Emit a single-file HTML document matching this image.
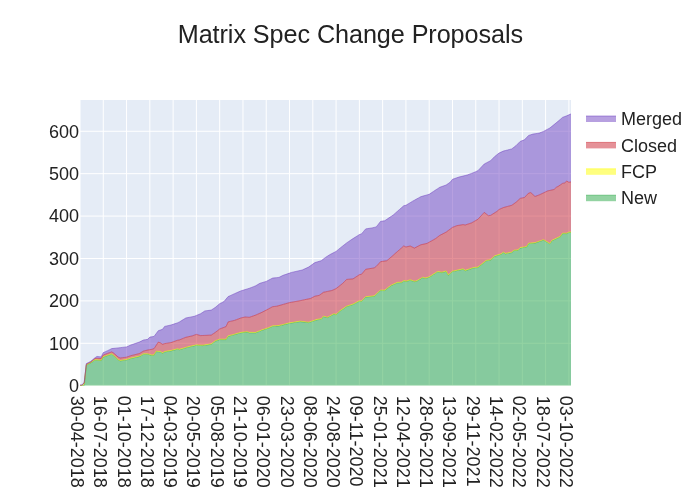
<!DOCTYPE html>
<html><head><meta charset="utf-8"><title>Matrix Spec Change Proposals</title>
<style>
html,body{margin:0;padding:0;background:#fff;}
body{width:700px;height:500px;overflow:hidden;font-family:"Liberation Sans",sans-serif;}
.layer{position:absolute;left:0;top:0;width:700px;height:500px;}
.txt{will-change:transform;}
.t{font-family:"Liberation Sans",sans-serif;font-size:18px;fill:#222222;}
.title{font-family:"Liberation Sans",sans-serif;font-size:25.2px;fill:#222222;}
</style></head><body>
<div class="layer"><svg width="700" height="500" viewBox="0 0 700 500" style="display:block">
<rect x="0" y="0" width="700" height="500" fill="#ffffff"/>
<rect x="80" y="100" width="491" height="285.7" fill="#E5ECF6"/>
<path d="M80.00,100V385.7" stroke="#ffffff" stroke-width="1" fill="none"/>
<path d="M103.28,100V385.7" stroke="#ffffff" stroke-width="1" fill="none"/>
<path d="M126.56,100V385.7" stroke="#ffffff" stroke-width="1" fill="none"/>
<path d="M149.84,100V385.7" stroke="#ffffff" stroke-width="1" fill="none"/>
<path d="M173.12,100V385.7" stroke="#ffffff" stroke-width="1" fill="none"/>
<path d="M196.40,100V385.7" stroke="#ffffff" stroke-width="1" fill="none"/>
<path d="M219.68,100V385.7" stroke="#ffffff" stroke-width="1" fill="none"/>
<path d="M242.96,100V385.7" stroke="#ffffff" stroke-width="1" fill="none"/>
<path d="M266.24,100V385.7" stroke="#ffffff" stroke-width="1" fill="none"/>
<path d="M289.52,100V385.7" stroke="#ffffff" stroke-width="1" fill="none"/>
<path d="M312.80,100V385.7" stroke="#ffffff" stroke-width="1" fill="none"/>
<path d="M336.08,100V385.7" stroke="#ffffff" stroke-width="1" fill="none"/>
<path d="M359.36,100V385.7" stroke="#ffffff" stroke-width="1" fill="none"/>
<path d="M382.64,100V385.7" stroke="#ffffff" stroke-width="1" fill="none"/>
<path d="M405.92,100V385.7" stroke="#ffffff" stroke-width="1" fill="none"/>
<path d="M429.20,100V385.7" stroke="#ffffff" stroke-width="1" fill="none"/>
<path d="M452.48,100V385.7" stroke="#ffffff" stroke-width="1" fill="none"/>
<path d="M475.76,100V385.7" stroke="#ffffff" stroke-width="1" fill="none"/>
<path d="M499.04,100V385.7" stroke="#ffffff" stroke-width="1" fill="none"/>
<path d="M522.32,100V385.7" stroke="#ffffff" stroke-width="1" fill="none"/>
<path d="M545.60,100V385.7" stroke="#ffffff" stroke-width="1" fill="none"/>
<path d="M568.88,100V385.7" stroke="#ffffff" stroke-width="1" fill="none"/>
<path d="M80,343.29H571" stroke="#ffffff" stroke-width="1" fill="none"/>
<path d="M80,300.88H571" stroke="#ffffff" stroke-width="1" fill="none"/>
<path d="M80,258.47H571" stroke="#ffffff" stroke-width="1" fill="none"/>
<path d="M80,216.07H571" stroke="#ffffff" stroke-width="1" fill="none"/>
<path d="M80,173.66H571" stroke="#ffffff" stroke-width="1" fill="none"/>
<path d="M80,131.25H571" stroke="#ffffff" stroke-width="1" fill="none"/>
<path d="M80,385.7H571" stroke="#ffffff" stroke-width="2" fill="none"/>
<clipPath id="c"><rect x="80" y="100" width="491" height="285.7"/></clipPath>
<g clip-path="url(#c)">
<path d="M80.00,385.45 L82.12,385.45 L84.23,385.50 L86.35,365.20 L88.47,364.15 L90.58,363.10 L92.70,361.65 L94.81,360.20 L96.93,360.20 L99.05,360.40 L101.16,360.60 L103.28,357.10 L105.40,356.35 L107.51,355.60 L109.63,354.90 L111.75,354.20 L113.86,355.90 L115.98,357.90 L118.09,359.90 L120.21,360.90 L122.33,360.57 L124.44,360.23 L126.56,359.90 L128.68,359.20 L130.79,358.50 L132.91,358.02 L135.03,357.55 L137.14,357.07 L139.26,356.60 L141.38,355.40 L143.49,354.20 L145.61,354.20 L147.72,354.20 L149.84,354.85 L151.96,355.50 L154.07,355.20 L156.19,351.60 L158.31,351.75 L160.42,351.90 L162.54,353.30 L164.66,351.90 L166.77,351.57 L168.89,351.23 L171.00,350.90 L173.12,350.33 L175.24,349.77 L177.35,349.20 L179.47,349.70 L181.59,349.07 L183.70,348.45 L185.82,347.82 L187.94,347.20 L190.05,346.73 L192.17,346.25 L194.28,345.77 L196.40,345.30 L198.52,345.40 L200.63,345.50 L202.75,345.60 L204.87,345.27 L206.98,344.95 L209.10,344.62 L211.22,344.30 L213.33,342.70 L215.45,341.10 L217.56,340.35 L219.68,339.60 L221.80,339.60 L223.91,339.60 L226.03,339.60 L228.15,336.30 L230.26,335.73 L232.38,335.17 L234.50,334.60 L236.61,334.00 L238.73,333.40 L240.84,332.80 L242.96,332.57 L245.08,332.33 L247.19,332.10 L249.31,332.80 L251.43,332.80 L253.54,332.80 L255.66,332.80 L257.78,331.97 L259.89,331.13 L262.01,330.30 L264.12,329.60 L266.24,328.90 L268.36,328.20 L270.47,327.25 L272.59,326.30 L274.71,326.20 L276.82,326.10 L278.94,325.90 L281.06,325.38 L283.17,324.86 L285.29,324.34 L287.41,323.82 L289.52,323.30 L291.64,322.96 L293.75,322.62 L295.87,322.28 L297.99,321.94 L300.10,321.60 L302.22,321.85 L304.34,322.10 L306.45,322.35 L308.57,322.60 L310.69,321.90 L312.80,321.20 L314.92,320.50 L317.03,319.80 L319.15,319.50 L321.27,319.20 L323.38,316.60 L325.50,317.10 L327.62,317.60 L329.73,316.40 L331.85,315.20 L333.97,314.10 L336.08,314.80 L338.20,312.85 L340.31,310.90 L342.43,309.47 L344.55,308.03 L346.66,306.60 L348.78,305.90 L350.90,305.20 L353.01,304.50 L355.13,303.40 L357.25,302.30 L359.36,301.20 L361.48,301.50 L363.59,299.30 L365.71,297.10 L367.83,296.90 L369.94,296.70 L372.06,296.50 L374.18,296.30 L376.29,294.40 L378.41,292.50 L380.53,290.60 L382.64,290.55 L384.76,290.50 L386.88,288.87 L388.99,287.23 L391.11,285.60 L393.22,284.67 L395.34,283.73 L397.46,282.80 L399.57,282.70 L401.69,282.60 L403.81,280.90 L405.92,281.60 L408.04,280.90 L410.16,280.20 L412.27,280.90 L414.39,281.60 L416.50,281.30 L418.62,280.07 L420.74,278.83 L422.85,277.60 L424.97,278.50 L427.09,277.90 L429.20,277.30 L431.32,275.90 L433.44,274.50 L435.55,273.20 L437.67,271.90 L439.78,272.25 L441.90,272.60 L444.02,272.00 L446.13,271.40 L448.25,275.30 L450.37,273.45 L452.48,271.60 L454.60,271.14 L456.72,270.68 L458.83,270.22 L460.95,269.76 L463.06,269.30 L465.18,270.80 L467.30,270.07 L469.41,269.35 L471.53,268.62 L473.65,267.90 L475.76,267.70 L477.88,267.50 L480.00,265.82 L482.11,264.15 L484.23,262.48 L486.34,260.80 L488.46,260.45 L490.58,260.10 L492.69,258.15 L494.81,256.20 L496.93,255.57 L499.04,254.93 L501.16,254.30 L503.28,252.60 L505.39,253.80 L507.51,253.40 L509.62,253.00 L511.74,252.60 L513.86,250.60 L515.97,250.45 L518.09,250.30 L520.21,248.00 L522.32,247.67 L524.44,247.33 L526.56,247.00 L528.67,243.60 L530.79,243.43 L532.91,243.27 L535.02,243.10 L537.14,242.35 L539.25,241.60 L541.37,240.85 L543.49,240.10 L545.60,241.37 L547.72,242.63 L549.84,243.90 L551.95,240.80 L554.07,239.77 L556.19,238.75 L558.30,237.72 L560.42,236.70 L562.53,233.60 L564.65,233.60 L566.77,233.60 L568.88,232.50 L571.00,232.50 L571.00,385.70 L568.88,385.70 L566.77,385.70 L564.65,385.70 L562.53,385.70 L560.42,385.70 L558.30,385.70 L556.19,385.70 L554.07,385.70 L551.95,385.70 L549.84,385.70 L547.72,385.70 L545.60,385.70 L543.49,385.70 L541.37,385.70 L539.25,385.70 L537.14,385.70 L535.02,385.70 L532.91,385.70 L530.79,385.70 L528.67,385.70 L526.56,385.70 L524.44,385.70 L522.32,385.70 L520.21,385.70 L518.09,385.70 L515.97,385.70 L513.86,385.70 L511.74,385.70 L509.62,385.70 L507.51,385.70 L505.39,385.70 L503.28,385.70 L501.16,385.70 L499.04,385.70 L496.93,385.70 L494.81,385.70 L492.69,385.70 L490.58,385.70 L488.46,385.70 L486.34,385.70 L484.23,385.70 L482.11,385.70 L480.00,385.70 L477.88,385.70 L475.76,385.70 L473.65,385.70 L471.53,385.70 L469.41,385.70 L467.30,385.70 L465.18,385.70 L463.06,385.70 L460.95,385.70 L458.83,385.70 L456.72,385.70 L454.60,385.70 L452.48,385.70 L450.37,385.70 L448.25,385.70 L446.13,385.70 L444.02,385.70 L441.90,385.70 L439.78,385.70 L437.67,385.70 L435.55,385.70 L433.44,385.70 L431.32,385.70 L429.20,385.70 L427.09,385.70 L424.97,385.70 L422.85,385.70 L420.74,385.70 L418.62,385.70 L416.50,385.70 L414.39,385.70 L412.27,385.70 L410.16,385.70 L408.04,385.70 L405.92,385.70 L403.81,385.70 L401.69,385.70 L399.57,385.70 L397.46,385.70 L395.34,385.70 L393.22,385.70 L391.11,385.70 L388.99,385.70 L386.88,385.70 L384.76,385.70 L382.64,385.70 L380.53,385.70 L378.41,385.70 L376.29,385.70 L374.18,385.70 L372.06,385.70 L369.94,385.70 L367.83,385.70 L365.71,385.70 L363.59,385.70 L361.48,385.70 L359.36,385.70 L357.25,385.70 L355.13,385.70 L353.01,385.70 L350.90,385.70 L348.78,385.70 L346.66,385.70 L344.55,385.70 L342.43,385.70 L340.31,385.70 L338.20,385.70 L336.08,385.70 L333.97,385.70 L331.85,385.70 L329.73,385.70 L327.62,385.70 L325.50,385.70 L323.38,385.70 L321.27,385.70 L319.15,385.70 L317.03,385.70 L314.92,385.70 L312.80,385.70 L310.69,385.70 L308.57,385.70 L306.45,385.70 L304.34,385.70 L302.22,385.70 L300.10,385.70 L297.99,385.70 L295.87,385.70 L293.75,385.70 L291.64,385.70 L289.52,385.70 L287.41,385.70 L285.29,385.70 L283.17,385.70 L281.06,385.70 L278.94,385.70 L276.82,385.70 L274.71,385.70 L272.59,385.70 L270.47,385.70 L268.36,385.70 L266.24,385.70 L264.12,385.70 L262.01,385.70 L259.89,385.70 L257.78,385.70 L255.66,385.70 L253.54,385.70 L251.43,385.70 L249.31,385.70 L247.19,385.70 L245.08,385.70 L242.96,385.70 L240.84,385.70 L238.73,385.70 L236.61,385.70 L234.50,385.70 L232.38,385.70 L230.26,385.70 L228.15,385.70 L226.03,385.70 L223.91,385.70 L221.80,385.70 L219.68,385.70 L217.56,385.70 L215.45,385.70 L213.33,385.70 L211.22,385.70 L209.10,385.70 L206.98,385.70 L204.87,385.70 L202.75,385.70 L200.63,385.70 L198.52,385.70 L196.40,385.70 L194.28,385.70 L192.17,385.70 L190.05,385.70 L187.94,385.70 L185.82,385.70 L183.70,385.70 L181.59,385.70 L179.47,385.70 L177.35,385.70 L175.24,385.70 L173.12,385.70 L171.00,385.70 L168.89,385.70 L166.77,385.70 L164.66,385.70 L162.54,385.70 L160.42,385.70 L158.31,385.70 L156.19,385.70 L154.07,385.70 L151.96,385.70 L149.84,385.70 L147.72,385.70 L145.61,385.70 L143.49,385.70 L141.38,385.70 L139.26,385.70 L137.14,385.70 L135.03,385.70 L132.91,385.70 L130.79,385.70 L128.68,385.70 L126.56,385.70 L124.44,385.70 L122.33,385.70 L120.21,385.70 L118.09,385.70 L115.98,385.70 L113.86,385.70 L111.75,385.70 L109.63,385.70 L107.51,385.70 L105.40,385.70 L103.28,385.70 L101.16,385.70 L99.05,385.70 L96.93,385.70 L94.81,385.70 L92.70,385.70 L90.58,385.70 L88.47,385.70 L86.35,385.70 L84.23,385.70 L82.12,385.70 L80.00,385.70 Z" fill="rgba(40,167,69,0.5)" stroke="none"/>
<path d="M80.00,385.45 L82.12,385.45 L84.23,383.60 L86.35,364.75 L88.47,363.70 L90.58,362.65 L92.70,361.20 L94.81,359.75 L96.93,359.75 L99.05,359.95 L101.16,360.15 L103.28,356.65 L105.40,355.90 L107.51,355.15 L109.63,354.45 L111.75,353.75 L113.86,355.45 L115.98,357.45 L118.09,359.45 L120.21,360.45 L122.33,360.12 L124.44,359.78 L126.56,359.45 L128.68,358.75 L130.79,358.05 L132.91,357.57 L135.03,357.10 L137.14,356.62 L139.26,356.15 L141.38,354.95 L143.49,353.75 L145.61,353.75 L147.72,353.75 L149.84,354.40 L151.96,355.05 L154.07,354.75 L156.19,351.15 L158.31,351.30 L160.42,351.45 L162.54,352.85 L164.66,351.45 L166.77,351.12 L168.89,350.78 L171.00,350.45 L173.12,349.88 L175.24,349.32 L177.35,348.75 L179.47,349.25 L181.59,348.62 L183.70,348.00 L185.82,347.38 L187.94,346.75 L190.05,346.27 L192.17,345.80 L194.28,345.33 L196.40,344.85 L198.52,344.95 L200.63,345.05 L202.75,345.15 L204.87,344.82 L206.98,344.50 L209.10,344.18 L211.22,343.85 L213.33,342.25 L215.45,340.65 L217.56,339.90 L219.68,339.15 L221.80,339.15 L223.91,339.15 L226.03,339.15 L228.15,335.85 L230.26,335.28 L232.38,334.72 L234.50,334.15 L236.61,333.55 L238.73,332.95 L240.84,332.35 L242.96,332.12 L245.08,331.88 L247.19,331.65 L249.31,332.35 L251.43,332.35 L253.54,332.35 L255.66,332.35 L257.78,331.52 L259.89,330.68 L262.01,329.85 L264.12,329.15 L266.24,328.45 L268.36,327.75 L270.47,326.80 L272.59,325.85 L274.71,325.75 L276.82,325.65 L278.94,325.45 L281.06,324.93 L283.17,324.41 L285.29,323.89 L287.41,323.37 L289.52,322.85 L291.64,322.51 L293.75,322.17 L295.87,321.83 L297.99,321.49 L300.10,321.15 L302.22,321.40 L304.34,321.65 L306.45,321.90 L308.57,322.15 L310.69,321.45 L312.80,320.75 L314.92,320.05 L317.03,319.35 L319.15,319.05 L321.27,318.75 L323.38,316.15 L325.50,316.65 L327.62,317.15 L329.73,315.95 L331.85,314.75 L333.97,313.65 L336.08,314.35 L338.20,312.40 L340.31,310.45 L342.43,309.02 L344.55,307.58 L346.66,306.15 L348.78,305.45 L350.90,304.75 L353.01,304.05 L355.13,302.95 L357.25,301.85 L359.36,300.75 L361.48,301.05 L363.59,298.85 L365.71,296.65 L367.83,296.45 L369.94,296.25 L372.06,296.05 L374.18,295.85 L376.29,293.95 L378.41,292.05 L380.53,290.15 L382.64,290.10 L384.76,290.05 L386.88,288.42 L388.99,286.78 L391.11,285.15 L393.22,284.22 L395.34,283.28 L397.46,282.35 L399.57,282.25 L401.69,282.15 L403.81,280.45 L405.92,281.15 L408.04,280.45 L410.16,279.75 L412.27,280.45 L414.39,281.15 L416.50,280.85 L418.62,279.62 L420.74,278.38 L422.85,277.15 L424.97,278.05 L427.09,277.45 L429.20,276.85 L431.32,275.45 L433.44,274.05 L435.55,272.75 L437.67,271.45 L439.78,271.80 L441.90,272.15 L444.02,271.55 L446.13,270.95 L448.25,274.85 L450.37,273.00 L452.48,271.15 L454.60,270.69 L456.72,270.23 L458.83,269.77 L460.95,269.31 L463.06,268.85 L465.18,270.35 L467.30,269.62 L469.41,268.90 L471.53,268.18 L473.65,267.45 L475.76,267.25 L477.88,267.05 L480.00,265.38 L482.11,263.70 L484.23,262.03 L486.34,260.35 L488.46,260.00 L490.58,259.65 L492.69,257.70 L494.81,255.75 L496.93,255.12 L499.04,254.48 L501.16,253.85 L503.28,252.15 L505.39,253.35 L507.51,252.95 L509.62,252.55 L511.74,252.15 L513.86,250.15 L515.97,250.00 L518.09,249.85 L520.21,247.55 L522.32,247.22 L524.44,246.88 L526.56,246.55 L528.67,243.15 L530.79,242.98 L532.91,242.82 L535.02,242.65 L537.14,241.90 L539.25,241.15 L541.37,240.40 L543.49,239.65 L545.60,240.92 L547.72,242.18 L549.84,243.45 L551.95,240.35 L554.07,239.32 L556.19,238.30 L558.30,237.28 L560.42,236.25 L562.53,233.15 L564.65,233.15 L566.77,233.15 L568.88,232.05 L571.00,232.05 L571.00,232.50 L568.88,232.50 L566.77,233.60 L564.65,233.60 L562.53,233.60 L560.42,236.70 L558.30,237.72 L556.19,238.75 L554.07,239.77 L551.95,240.80 L549.84,243.90 L547.72,242.63 L545.60,241.37 L543.49,240.10 L541.37,240.85 L539.25,241.60 L537.14,242.35 L535.02,243.10 L532.91,243.27 L530.79,243.43 L528.67,243.60 L526.56,247.00 L524.44,247.33 L522.32,247.67 L520.21,248.00 L518.09,250.30 L515.97,250.45 L513.86,250.60 L511.74,252.60 L509.62,253.00 L507.51,253.40 L505.39,253.80 L503.28,252.60 L501.16,254.30 L499.04,254.93 L496.93,255.57 L494.81,256.20 L492.69,258.15 L490.58,260.10 L488.46,260.45 L486.34,260.80 L484.23,262.48 L482.11,264.15 L480.00,265.82 L477.88,267.50 L475.76,267.70 L473.65,267.90 L471.53,268.62 L469.41,269.35 L467.30,270.07 L465.18,270.80 L463.06,269.30 L460.95,269.76 L458.83,270.22 L456.72,270.68 L454.60,271.14 L452.48,271.60 L450.37,273.45 L448.25,275.30 L446.13,271.40 L444.02,272.00 L441.90,272.60 L439.78,272.25 L437.67,271.90 L435.55,273.20 L433.44,274.50 L431.32,275.90 L429.20,277.30 L427.09,277.90 L424.97,278.50 L422.85,277.60 L420.74,278.83 L418.62,280.07 L416.50,281.30 L414.39,281.60 L412.27,280.90 L410.16,280.20 L408.04,280.90 L405.92,281.60 L403.81,280.90 L401.69,282.60 L399.57,282.70 L397.46,282.80 L395.34,283.73 L393.22,284.67 L391.11,285.60 L388.99,287.23 L386.88,288.87 L384.76,290.50 L382.64,290.55 L380.53,290.60 L378.41,292.50 L376.29,294.40 L374.18,296.30 L372.06,296.50 L369.94,296.70 L367.83,296.90 L365.71,297.10 L363.59,299.30 L361.48,301.50 L359.36,301.20 L357.25,302.30 L355.13,303.40 L353.01,304.50 L350.90,305.20 L348.78,305.90 L346.66,306.60 L344.55,308.03 L342.43,309.47 L340.31,310.90 L338.20,312.85 L336.08,314.80 L333.97,314.10 L331.85,315.20 L329.73,316.40 L327.62,317.60 L325.50,317.10 L323.38,316.60 L321.27,319.20 L319.15,319.50 L317.03,319.80 L314.92,320.50 L312.80,321.20 L310.69,321.90 L308.57,322.60 L306.45,322.35 L304.34,322.10 L302.22,321.85 L300.10,321.60 L297.99,321.94 L295.87,322.28 L293.75,322.62 L291.64,322.96 L289.52,323.30 L287.41,323.82 L285.29,324.34 L283.17,324.86 L281.06,325.38 L278.94,325.90 L276.82,326.10 L274.71,326.20 L272.59,326.30 L270.47,327.25 L268.36,328.20 L266.24,328.90 L264.12,329.60 L262.01,330.30 L259.89,331.13 L257.78,331.97 L255.66,332.80 L253.54,332.80 L251.43,332.80 L249.31,332.80 L247.19,332.10 L245.08,332.33 L242.96,332.57 L240.84,332.80 L238.73,333.40 L236.61,334.00 L234.50,334.60 L232.38,335.17 L230.26,335.73 L228.15,336.30 L226.03,339.60 L223.91,339.60 L221.80,339.60 L219.68,339.60 L217.56,340.35 L215.45,341.10 L213.33,342.70 L211.22,344.30 L209.10,344.62 L206.98,344.95 L204.87,345.27 L202.75,345.60 L200.63,345.50 L198.52,345.40 L196.40,345.30 L194.28,345.77 L192.17,346.25 L190.05,346.73 L187.94,347.20 L185.82,347.82 L183.70,348.45 L181.59,349.07 L179.47,349.70 L177.35,349.20 L175.24,349.77 L173.12,350.33 L171.00,350.90 L168.89,351.23 L166.77,351.57 L164.66,351.90 L162.54,353.30 L160.42,351.90 L158.31,351.75 L156.19,351.60 L154.07,355.20 L151.96,355.50 L149.84,354.85 L147.72,354.20 L145.61,354.20 L143.49,354.20 L141.38,355.40 L139.26,356.60 L137.14,357.07 L135.03,357.55 L132.91,358.02 L130.79,358.50 L128.68,359.20 L126.56,359.90 L124.44,360.23 L122.33,360.57 L120.21,360.90 L118.09,359.90 L115.98,357.90 L113.86,355.90 L111.75,354.20 L109.63,354.90 L107.51,355.60 L105.40,356.35 L103.28,357.10 L101.16,360.60 L99.05,360.40 L96.93,360.20 L94.81,360.20 L92.70,361.65 L90.58,363.10 L88.47,364.15 L86.35,365.20 L84.23,385.50 L82.12,385.45 L80.00,385.45 Z" fill="rgba(255,255,0,0.5)" stroke="none"/>
<path d="M80.00,385.25 L82.12,385.20 L84.23,382.80 L86.35,364.30 L88.47,363.25 L90.58,362.20 L92.70,360.40 L94.81,358.60 L96.93,358.30 L99.05,358.45 L101.16,358.60 L103.28,355.00 L105.40,354.20 L107.51,353.40 L109.63,352.65 L111.75,351.90 L113.86,353.20 L115.98,355.10 L118.09,357.00 L120.21,358.00 L122.33,357.73 L124.44,357.47 L126.56,357.20 L128.68,356.45 L130.79,355.70 L132.91,355.18 L135.03,354.65 L137.14,354.12 L139.26,353.60 L141.38,352.35 L143.49,351.10 L145.61,350.55 L147.72,350.00 L149.84,349.65 L151.96,349.30 L154.07,348.60 L156.19,345.35 L158.31,342.10 L160.42,342.90 L162.54,344.30 L164.66,343.60 L166.77,343.27 L168.89,342.93 L171.00,342.60 L173.12,341.83 L175.24,341.07 L177.35,340.30 L179.47,339.90 L181.59,339.03 L183.70,338.17 L185.82,337.30 L187.94,336.83 L190.05,336.37 L192.17,335.90 L194.28,335.15 L196.40,334.40 L198.52,335.00 L200.63,335.60 L202.75,335.50 L204.87,335.40 L206.98,335.30 L209.10,335.20 L211.22,335.10 L213.33,333.70 L215.45,332.30 L217.56,330.65 L219.68,329.00 L221.80,328.20 L223.91,327.40 L226.03,326.60 L228.15,321.90 L230.26,321.40 L232.38,320.90 L234.50,320.40 L236.61,319.60 L238.73,318.80 L240.84,318.00 L242.96,317.50 L245.08,317.00 L247.19,317.15 L249.31,317.30 L251.43,316.57 L253.54,315.83 L255.66,315.10 L257.78,314.17 L259.89,313.23 L262.01,312.30 L264.12,311.20 L266.24,310.10 L268.36,308.97 L270.47,307.83 L272.59,306.70 L274.71,306.45 L276.82,306.20 L278.94,305.60 L281.06,305.00 L283.17,304.40 L285.29,303.80 L287.41,303.20 L289.52,302.60 L291.64,302.22 L293.75,301.84 L295.87,301.46 L297.99,301.08 L300.10,300.70 L302.22,300.24 L304.34,299.78 L306.45,299.32 L308.57,298.86 L310.69,298.40 L312.80,297.30 L314.92,296.20 L317.03,295.80 L319.15,295.40 L321.27,293.85 L323.38,292.30 L325.50,291.85 L327.62,291.40 L329.73,290.95 L331.85,290.50 L333.97,289.55 L336.08,288.60 L338.20,286.93 L340.31,285.27 L342.43,283.60 L344.55,281.50 L346.66,279.40 L348.78,279.23 L350.90,279.07 L353.01,278.90 L355.13,277.50 L357.25,276.10 L359.36,274.70 L361.48,274.30 L363.59,271.80 L365.71,269.30 L367.83,268.95 L369.94,268.60 L372.06,268.25 L374.18,267.90 L376.29,266.40 L378.41,264.05 L380.53,261.70 L382.64,261.37 L384.76,261.03 L386.88,260.70 L388.99,258.90 L391.11,257.10 L393.22,255.23 L395.34,253.37 L397.46,251.50 L399.57,249.63 L401.69,247.77 L403.81,245.90 L405.92,247.00 L408.04,246.50 L410.16,246.00 L412.27,247.05 L414.39,248.10 L416.50,247.00 L418.62,245.90 L420.74,244.80 L422.85,244.33 L424.97,243.87 L427.09,243.40 L429.20,242.20 L431.32,241.00 L433.44,239.80 L435.55,238.60 L437.67,237.00 L439.78,235.40 L441.90,234.30 L444.02,233.20 L446.13,232.10 L448.25,230.53 L450.37,228.97 L452.48,227.40 L454.60,226.55 L456.72,225.70 L458.83,225.33 L460.95,224.97 L463.06,224.60 L465.18,225.00 L467.30,224.30 L469.41,223.60 L471.53,222.90 L473.65,221.70 L475.76,220.50 L477.88,219.30 L480.00,217.00 L482.11,214.70 L484.23,212.40 L486.34,214.05 L488.46,215.70 L490.58,215.40 L492.69,214.07 L494.81,212.73 L496.93,211.40 L499.04,209.50 L501.16,208.55 L503.28,207.60 L505.39,207.03 L507.51,206.45 L509.62,205.88 L511.74,205.30 L513.86,203.80 L515.97,202.30 L518.09,200.35 L520.21,198.40 L522.32,197.95 L524.44,197.50 L526.56,195.30 L528.67,193.10 L530.79,192.60 L532.91,194.55 L535.02,196.50 L537.14,195.70 L539.25,194.90 L541.37,193.90 L543.49,192.90 L545.60,191.90 L547.72,190.90 L549.84,190.43 L551.95,189.97 L554.07,189.50 L556.19,187.40 L558.30,186.30 L560.42,184.85 L562.53,183.40 L564.65,182.90 L566.77,181.10 L568.88,182.30 L571.00,181.90 L571.00,232.05 L568.88,232.05 L566.77,233.15 L564.65,233.15 L562.53,233.15 L560.42,236.25 L558.30,237.28 L556.19,238.30 L554.07,239.32 L551.95,240.35 L549.84,243.45 L547.72,242.18 L545.60,240.92 L543.49,239.65 L541.37,240.40 L539.25,241.15 L537.14,241.90 L535.02,242.65 L532.91,242.82 L530.79,242.98 L528.67,243.15 L526.56,246.55 L524.44,246.88 L522.32,247.22 L520.21,247.55 L518.09,249.85 L515.97,250.00 L513.86,250.15 L511.74,252.15 L509.62,252.55 L507.51,252.95 L505.39,253.35 L503.28,252.15 L501.16,253.85 L499.04,254.48 L496.93,255.12 L494.81,255.75 L492.69,257.70 L490.58,259.65 L488.46,260.00 L486.34,260.35 L484.23,262.03 L482.11,263.70 L480.00,265.38 L477.88,267.05 L475.76,267.25 L473.65,267.45 L471.53,268.18 L469.41,268.90 L467.30,269.62 L465.18,270.35 L463.06,268.85 L460.95,269.31 L458.83,269.77 L456.72,270.23 L454.60,270.69 L452.48,271.15 L450.37,273.00 L448.25,274.85 L446.13,270.95 L444.02,271.55 L441.90,272.15 L439.78,271.80 L437.67,271.45 L435.55,272.75 L433.44,274.05 L431.32,275.45 L429.20,276.85 L427.09,277.45 L424.97,278.05 L422.85,277.15 L420.74,278.38 L418.62,279.62 L416.50,280.85 L414.39,281.15 L412.27,280.45 L410.16,279.75 L408.04,280.45 L405.92,281.15 L403.81,280.45 L401.69,282.15 L399.57,282.25 L397.46,282.35 L395.34,283.28 L393.22,284.22 L391.11,285.15 L388.99,286.78 L386.88,288.42 L384.76,290.05 L382.64,290.10 L380.53,290.15 L378.41,292.05 L376.29,293.95 L374.18,295.85 L372.06,296.05 L369.94,296.25 L367.83,296.45 L365.71,296.65 L363.59,298.85 L361.48,301.05 L359.36,300.75 L357.25,301.85 L355.13,302.95 L353.01,304.05 L350.90,304.75 L348.78,305.45 L346.66,306.15 L344.55,307.58 L342.43,309.02 L340.31,310.45 L338.20,312.40 L336.08,314.35 L333.97,313.65 L331.85,314.75 L329.73,315.95 L327.62,317.15 L325.50,316.65 L323.38,316.15 L321.27,318.75 L319.15,319.05 L317.03,319.35 L314.92,320.05 L312.80,320.75 L310.69,321.45 L308.57,322.15 L306.45,321.90 L304.34,321.65 L302.22,321.40 L300.10,321.15 L297.99,321.49 L295.87,321.83 L293.75,322.17 L291.64,322.51 L289.52,322.85 L287.41,323.37 L285.29,323.89 L283.17,324.41 L281.06,324.93 L278.94,325.45 L276.82,325.65 L274.71,325.75 L272.59,325.85 L270.47,326.80 L268.36,327.75 L266.24,328.45 L264.12,329.15 L262.01,329.85 L259.89,330.68 L257.78,331.52 L255.66,332.35 L253.54,332.35 L251.43,332.35 L249.31,332.35 L247.19,331.65 L245.08,331.88 L242.96,332.12 L240.84,332.35 L238.73,332.95 L236.61,333.55 L234.50,334.15 L232.38,334.72 L230.26,335.28 L228.15,335.85 L226.03,339.15 L223.91,339.15 L221.80,339.15 L219.68,339.15 L217.56,339.90 L215.45,340.65 L213.33,342.25 L211.22,343.85 L209.10,344.18 L206.98,344.50 L204.87,344.82 L202.75,345.15 L200.63,345.05 L198.52,344.95 L196.40,344.85 L194.28,345.33 L192.17,345.80 L190.05,346.27 L187.94,346.75 L185.82,347.38 L183.70,348.00 L181.59,348.62 L179.47,349.25 L177.35,348.75 L175.24,349.32 L173.12,349.88 L171.00,350.45 L168.89,350.78 L166.77,351.12 L164.66,351.45 L162.54,352.85 L160.42,351.45 L158.31,351.30 L156.19,351.15 L154.07,354.75 L151.96,355.05 L149.84,354.40 L147.72,353.75 L145.61,353.75 L143.49,353.75 L141.38,354.95 L139.26,356.15 L137.14,356.62 L135.03,357.10 L132.91,357.57 L130.79,358.05 L128.68,358.75 L126.56,359.45 L124.44,359.78 L122.33,360.12 L120.21,360.45 L118.09,359.45 L115.98,357.45 L113.86,355.45 L111.75,353.75 L109.63,354.45 L107.51,355.15 L105.40,355.90 L103.28,356.65 L101.16,360.15 L99.05,359.95 L96.93,359.75 L94.81,359.75 L92.70,361.20 L90.58,362.65 L88.47,363.70 L86.35,364.75 L84.23,383.60 L82.12,385.45 L80.00,385.45 Z" fill="rgba(203,36,49,0.5)" stroke="none"/>
<path d="M80.00,385.00 L82.12,384.90 L84.23,382.20 L86.35,363.60 L88.47,362.50 L90.58,361.40 L92.70,359.65 L94.81,357.90 L96.93,356.40 L99.05,356.65 L101.16,356.90 L103.28,352.60 L105.40,351.65 L107.51,350.70 L109.63,349.65 L111.75,348.60 L113.86,348.37 L115.98,348.13 L118.09,347.90 L120.21,347.65 L122.33,347.40 L124.44,347.15 L126.56,346.90 L128.68,345.95 L130.79,345.00 L132.91,344.27 L135.03,343.55 L137.14,342.83 L139.26,342.10 L141.38,341.05 L143.49,340.00 L145.61,339.65 L147.72,339.30 L149.84,337.10 L151.96,336.75 L154.07,336.40 L156.19,333.55 L158.31,330.70 L160.42,330.00 L162.54,329.30 L164.66,326.40 L166.77,325.93 L168.89,325.47 L171.00,325.00 L173.12,324.30 L175.24,323.60 L177.35,322.90 L179.47,321.90 L181.59,320.60 L183.70,319.30 L185.82,318.00 L187.94,317.57 L190.05,317.15 L192.17,316.73 L194.28,316.30 L196.40,315.43 L198.52,314.57 L200.63,313.70 L202.75,312.30 L204.87,310.90 L206.98,310.63 L209.10,310.37 L211.22,310.10 L213.33,308.70 L215.45,307.30 L217.56,305.50 L219.68,303.70 L221.80,302.65 L223.91,301.60 L226.03,299.10 L228.15,296.60 L230.26,295.63 L232.38,294.67 L234.50,293.70 L236.61,292.77 L238.73,291.83 L240.84,290.90 L242.96,290.25 L245.08,289.60 L247.19,288.95 L249.31,288.30 L251.43,287.47 L253.54,286.63 L255.66,285.80 L257.78,284.55 L259.89,283.30 L262.01,282.67 L264.12,282.03 L266.24,281.40 L268.36,280.30 L270.47,279.20 L272.59,278.10 L274.71,277.87 L276.82,277.63 L278.94,277.40 L281.06,276.35 L283.17,275.30 L285.29,274.57 L287.41,273.85 L289.52,273.12 L291.64,272.40 L293.75,271.92 L295.87,271.44 L297.99,270.96 L300.10,270.48 L302.22,270.00 L304.34,269.03 L306.45,268.07 L308.57,267.10 L310.69,265.60 L312.80,264.10 L314.92,262.60 L317.03,261.97 L319.15,261.33 L321.27,260.70 L323.38,259.05 L325.50,257.40 L327.62,256.05 L329.73,254.70 L331.85,253.60 L333.97,252.50 L336.08,251.40 L338.20,249.65 L340.31,247.90 L342.43,246.23 L344.55,244.57 L346.66,242.90 L348.78,241.45 L350.90,240.00 L353.01,238.60 L355.13,237.27 L357.25,235.93 L359.36,234.60 L361.48,233.90 L363.59,231.40 L365.71,228.90 L367.83,228.57 L369.94,228.23 L372.06,227.90 L374.18,227.40 L376.29,226.90 L378.41,224.15 L380.53,221.40 L382.64,221.05 L384.76,220.70 L386.88,219.27 L388.99,217.85 L391.11,216.43 L393.22,215.00 L395.34,213.14 L397.46,211.28 L399.57,209.42 L401.69,207.56 L403.81,205.70 L405.92,205.30 L408.04,204.00 L410.16,202.70 L412.27,201.40 L414.39,200.22 L416.50,199.05 L418.62,197.88 L420.74,196.70 L422.85,196.10 L424.97,195.50 L427.09,194.90 L429.20,194.30 L431.32,192.87 L433.44,191.43 L435.55,190.00 L437.67,188.65 L439.78,187.30 L441.90,186.53 L444.02,185.77 L446.13,185.00 L448.25,183.55 L450.37,182.10 L452.48,179.30 L454.60,178.57 L456.72,177.83 L458.83,177.10 L460.95,176.57 L463.06,176.05 L465.18,175.53 L467.30,175.00 L469.41,174.20 L471.53,173.40 L473.65,172.60 L475.76,171.65 L477.88,170.70 L480.00,168.47 L482.11,166.23 L484.23,164.00 L486.34,162.90 L488.46,161.80 L490.58,160.70 L492.69,158.55 L494.81,156.40 L496.93,154.75 L499.04,153.10 L501.16,152.10 L503.28,151.10 L505.39,150.55 L507.51,150.00 L509.62,149.45 L511.74,148.90 L513.86,147.30 L515.97,145.70 L518.09,143.55 L520.21,141.40 L522.32,140.60 L524.44,139.80 L526.56,137.60 L528.67,135.40 L530.79,134.75 L532.91,134.10 L535.02,133.77 L537.14,133.43 L539.25,133.10 L541.37,132.25 L543.49,131.40 L545.60,130.27 L547.72,129.13 L549.84,128.00 L551.95,126.30 L554.07,124.60 L556.19,122.85 L558.30,121.10 L560.42,119.25 L562.53,117.40 L564.65,116.60 L566.77,115.80 L568.88,114.85 L571.00,113.90 L571.00,181.90 L568.88,182.30 L566.77,181.10 L564.65,182.90 L562.53,183.40 L560.42,184.85 L558.30,186.30 L556.19,187.40 L554.07,189.50 L551.95,189.97 L549.84,190.43 L547.72,190.90 L545.60,191.90 L543.49,192.90 L541.37,193.90 L539.25,194.90 L537.14,195.70 L535.02,196.50 L532.91,194.55 L530.79,192.60 L528.67,193.10 L526.56,195.30 L524.44,197.50 L522.32,197.95 L520.21,198.40 L518.09,200.35 L515.97,202.30 L513.86,203.80 L511.74,205.30 L509.62,205.88 L507.51,206.45 L505.39,207.03 L503.28,207.60 L501.16,208.55 L499.04,209.50 L496.93,211.40 L494.81,212.73 L492.69,214.07 L490.58,215.40 L488.46,215.70 L486.34,214.05 L484.23,212.40 L482.11,214.70 L480.00,217.00 L477.88,219.30 L475.76,220.50 L473.65,221.70 L471.53,222.90 L469.41,223.60 L467.30,224.30 L465.18,225.00 L463.06,224.60 L460.95,224.97 L458.83,225.33 L456.72,225.70 L454.60,226.55 L452.48,227.40 L450.37,228.97 L448.25,230.53 L446.13,232.10 L444.02,233.20 L441.90,234.30 L439.78,235.40 L437.67,237.00 L435.55,238.60 L433.44,239.80 L431.32,241.00 L429.20,242.20 L427.09,243.40 L424.97,243.87 L422.85,244.33 L420.74,244.80 L418.62,245.90 L416.50,247.00 L414.39,248.10 L412.27,247.05 L410.16,246.00 L408.04,246.50 L405.92,247.00 L403.81,245.90 L401.69,247.77 L399.57,249.63 L397.46,251.50 L395.34,253.37 L393.22,255.23 L391.11,257.10 L388.99,258.90 L386.88,260.70 L384.76,261.03 L382.64,261.37 L380.53,261.70 L378.41,264.05 L376.29,266.40 L374.18,267.90 L372.06,268.25 L369.94,268.60 L367.83,268.95 L365.71,269.30 L363.59,271.80 L361.48,274.30 L359.36,274.70 L357.25,276.10 L355.13,277.50 L353.01,278.90 L350.90,279.07 L348.78,279.23 L346.66,279.40 L344.55,281.50 L342.43,283.60 L340.31,285.27 L338.20,286.93 L336.08,288.60 L333.97,289.55 L331.85,290.50 L329.73,290.95 L327.62,291.40 L325.50,291.85 L323.38,292.30 L321.27,293.85 L319.15,295.40 L317.03,295.80 L314.92,296.20 L312.80,297.30 L310.69,298.40 L308.57,298.86 L306.45,299.32 L304.34,299.78 L302.22,300.24 L300.10,300.70 L297.99,301.08 L295.87,301.46 L293.75,301.84 L291.64,302.22 L289.52,302.60 L287.41,303.20 L285.29,303.80 L283.17,304.40 L281.06,305.00 L278.94,305.60 L276.82,306.20 L274.71,306.45 L272.59,306.70 L270.47,307.83 L268.36,308.97 L266.24,310.10 L264.12,311.20 L262.01,312.30 L259.89,313.23 L257.78,314.17 L255.66,315.10 L253.54,315.83 L251.43,316.57 L249.31,317.30 L247.19,317.15 L245.08,317.00 L242.96,317.50 L240.84,318.00 L238.73,318.80 L236.61,319.60 L234.50,320.40 L232.38,320.90 L230.26,321.40 L228.15,321.90 L226.03,326.60 L223.91,327.40 L221.80,328.20 L219.68,329.00 L217.56,330.65 L215.45,332.30 L213.33,333.70 L211.22,335.10 L209.10,335.20 L206.98,335.30 L204.87,335.40 L202.75,335.50 L200.63,335.60 L198.52,335.00 L196.40,334.40 L194.28,335.15 L192.17,335.90 L190.05,336.37 L187.94,336.83 L185.82,337.30 L183.70,338.17 L181.59,339.03 L179.47,339.90 L177.35,340.30 L175.24,341.07 L173.12,341.83 L171.00,342.60 L168.89,342.93 L166.77,343.27 L164.66,343.60 L162.54,344.30 L160.42,342.90 L158.31,342.10 L156.19,345.35 L154.07,348.60 L151.96,349.30 L149.84,349.65 L147.72,350.00 L145.61,350.55 L143.49,351.10 L141.38,352.35 L139.26,353.60 L137.14,354.12 L135.03,354.65 L132.91,355.18 L130.79,355.70 L128.68,356.45 L126.56,357.20 L124.44,357.47 L122.33,357.73 L120.21,358.00 L118.09,357.00 L115.98,355.10 L113.86,353.20 L111.75,351.90 L109.63,352.65 L107.51,353.40 L105.40,354.20 L103.28,355.00 L101.16,358.60 L99.05,358.45 L96.93,358.30 L94.81,358.60 L92.70,360.40 L90.58,362.20 L88.47,363.25 L86.35,364.30 L84.23,382.80 L82.12,385.20 L80.00,385.25 Z" fill="rgba(111,66,193,0.5)" stroke="none"/>
<path d="M80.00,385.45 L82.12,385.45 L84.23,385.50 L86.35,365.20 L88.47,364.15 L90.58,363.10 L92.70,361.65 L94.81,360.20 L96.93,360.20 L99.05,360.40 L101.16,360.60 L103.28,357.10 L105.40,356.35 L107.51,355.60 L109.63,354.90 L111.75,354.20 L113.86,355.90 L115.98,357.90 L118.09,359.90 L120.21,360.90 L122.33,360.57 L124.44,360.23 L126.56,359.90 L128.68,359.20 L130.79,358.50 L132.91,358.02 L135.03,357.55 L137.14,357.07 L139.26,356.60 L141.38,355.40 L143.49,354.20 L145.61,354.20 L147.72,354.20 L149.84,354.85 L151.96,355.50 L154.07,355.20 L156.19,351.60 L158.31,351.75 L160.42,351.90 L162.54,353.30 L164.66,351.90 L166.77,351.57 L168.89,351.23 L171.00,350.90 L173.12,350.33 L175.24,349.77 L177.35,349.20 L179.47,349.70 L181.59,349.07 L183.70,348.45 L185.82,347.82 L187.94,347.20 L190.05,346.73 L192.17,346.25 L194.28,345.77 L196.40,345.30 L198.52,345.40 L200.63,345.50 L202.75,345.60 L204.87,345.27 L206.98,344.95 L209.10,344.62 L211.22,344.30 L213.33,342.70 L215.45,341.10 L217.56,340.35 L219.68,339.60 L221.80,339.60 L223.91,339.60 L226.03,339.60 L228.15,336.30 L230.26,335.73 L232.38,335.17 L234.50,334.60 L236.61,334.00 L238.73,333.40 L240.84,332.80 L242.96,332.57 L245.08,332.33 L247.19,332.10 L249.31,332.80 L251.43,332.80 L253.54,332.80 L255.66,332.80 L257.78,331.97 L259.89,331.13 L262.01,330.30 L264.12,329.60 L266.24,328.90 L268.36,328.20 L270.47,327.25 L272.59,326.30 L274.71,326.20 L276.82,326.10 L278.94,325.90 L281.06,325.38 L283.17,324.86 L285.29,324.34 L287.41,323.82 L289.52,323.30 L291.64,322.96 L293.75,322.62 L295.87,322.28 L297.99,321.94 L300.10,321.60 L302.22,321.85 L304.34,322.10 L306.45,322.35 L308.57,322.60 L310.69,321.90 L312.80,321.20 L314.92,320.50 L317.03,319.80 L319.15,319.50 L321.27,319.20 L323.38,316.60 L325.50,317.10 L327.62,317.60 L329.73,316.40 L331.85,315.20 L333.97,314.10 L336.08,314.80 L338.20,312.85 L340.31,310.90 L342.43,309.47 L344.55,308.03 L346.66,306.60 L348.78,305.90 L350.90,305.20 L353.01,304.50 L355.13,303.40 L357.25,302.30 L359.36,301.20 L361.48,301.50 L363.59,299.30 L365.71,297.10 L367.83,296.90 L369.94,296.70 L372.06,296.50 L374.18,296.30 L376.29,294.40 L378.41,292.50 L380.53,290.60 L382.64,290.55 L384.76,290.50 L386.88,288.87 L388.99,287.23 L391.11,285.60 L393.22,284.67 L395.34,283.73 L397.46,282.80 L399.57,282.70 L401.69,282.60 L403.81,280.90 L405.92,281.60 L408.04,280.90 L410.16,280.20 L412.27,280.90 L414.39,281.60 L416.50,281.30 L418.62,280.07 L420.74,278.83 L422.85,277.60 L424.97,278.50 L427.09,277.90 L429.20,277.30 L431.32,275.90 L433.44,274.50 L435.55,273.20 L437.67,271.90 L439.78,272.25 L441.90,272.60 L444.02,272.00 L446.13,271.40 L448.25,275.30 L450.37,273.45 L452.48,271.60 L454.60,271.14 L456.72,270.68 L458.83,270.22 L460.95,269.76 L463.06,269.30 L465.18,270.80 L467.30,270.07 L469.41,269.35 L471.53,268.62 L473.65,267.90 L475.76,267.70 L477.88,267.50 L480.00,265.82 L482.11,264.15 L484.23,262.48 L486.34,260.80 L488.46,260.45 L490.58,260.10 L492.69,258.15 L494.81,256.20 L496.93,255.57 L499.04,254.93 L501.16,254.30 L503.28,252.60 L505.39,253.80 L507.51,253.40 L509.62,253.00 L511.74,252.60 L513.86,250.60 L515.97,250.45 L518.09,250.30 L520.21,248.00 L522.32,247.67 L524.44,247.33 L526.56,247.00 L528.67,243.60 L530.79,243.43 L532.91,243.27 L535.02,243.10 L537.14,242.35 L539.25,241.60 L541.37,240.85 L543.49,240.10 L545.60,241.37 L547.72,242.63 L549.84,243.90 L551.95,240.80 L554.07,239.77 L556.19,238.75 L558.30,237.72 L560.42,236.70 L562.53,233.60 L564.65,233.60 L566.77,233.60 L568.88,232.50 L571.00,232.50" fill="none" stroke="rgb(40,167,69)" stroke-width="0.5"/>
<path d="M80.00,385.45 L82.12,385.45 L84.23,383.60 L86.35,364.75 L88.47,363.70 L90.58,362.65 L92.70,361.20 L94.81,359.75 L96.93,359.75 L99.05,359.95 L101.16,360.15 L103.28,356.65 L105.40,355.90 L107.51,355.15 L109.63,354.45 L111.75,353.75 L113.86,355.45 L115.98,357.45 L118.09,359.45 L120.21,360.45 L122.33,360.12 L124.44,359.78 L126.56,359.45 L128.68,358.75 L130.79,358.05 L132.91,357.57 L135.03,357.10 L137.14,356.62 L139.26,356.15 L141.38,354.95 L143.49,353.75 L145.61,353.75 L147.72,353.75 L149.84,354.40 L151.96,355.05 L154.07,354.75 L156.19,351.15 L158.31,351.30 L160.42,351.45 L162.54,352.85 L164.66,351.45 L166.77,351.12 L168.89,350.78 L171.00,350.45 L173.12,349.88 L175.24,349.32 L177.35,348.75 L179.47,349.25 L181.59,348.62 L183.70,348.00 L185.82,347.38 L187.94,346.75 L190.05,346.27 L192.17,345.80 L194.28,345.33 L196.40,344.85 L198.52,344.95 L200.63,345.05 L202.75,345.15 L204.87,344.82 L206.98,344.50 L209.10,344.18 L211.22,343.85 L213.33,342.25 L215.45,340.65 L217.56,339.90 L219.68,339.15 L221.80,339.15 L223.91,339.15 L226.03,339.15 L228.15,335.85 L230.26,335.28 L232.38,334.72 L234.50,334.15 L236.61,333.55 L238.73,332.95 L240.84,332.35 L242.96,332.12 L245.08,331.88 L247.19,331.65 L249.31,332.35 L251.43,332.35 L253.54,332.35 L255.66,332.35 L257.78,331.52 L259.89,330.68 L262.01,329.85 L264.12,329.15 L266.24,328.45 L268.36,327.75 L270.47,326.80 L272.59,325.85 L274.71,325.75 L276.82,325.65 L278.94,325.45 L281.06,324.93 L283.17,324.41 L285.29,323.89 L287.41,323.37 L289.52,322.85 L291.64,322.51 L293.75,322.17 L295.87,321.83 L297.99,321.49 L300.10,321.15 L302.22,321.40 L304.34,321.65 L306.45,321.90 L308.57,322.15 L310.69,321.45 L312.80,320.75 L314.92,320.05 L317.03,319.35 L319.15,319.05 L321.27,318.75 L323.38,316.15 L325.50,316.65 L327.62,317.15 L329.73,315.95 L331.85,314.75 L333.97,313.65 L336.08,314.35 L338.20,312.40 L340.31,310.45 L342.43,309.02 L344.55,307.58 L346.66,306.15 L348.78,305.45 L350.90,304.75 L353.01,304.05 L355.13,302.95 L357.25,301.85 L359.36,300.75 L361.48,301.05 L363.59,298.85 L365.71,296.65 L367.83,296.45 L369.94,296.25 L372.06,296.05 L374.18,295.85 L376.29,293.95 L378.41,292.05 L380.53,290.15 L382.64,290.10 L384.76,290.05 L386.88,288.42 L388.99,286.78 L391.11,285.15 L393.22,284.22 L395.34,283.28 L397.46,282.35 L399.57,282.25 L401.69,282.15 L403.81,280.45 L405.92,281.15 L408.04,280.45 L410.16,279.75 L412.27,280.45 L414.39,281.15 L416.50,280.85 L418.62,279.62 L420.74,278.38 L422.85,277.15 L424.97,278.05 L427.09,277.45 L429.20,276.85 L431.32,275.45 L433.44,274.05 L435.55,272.75 L437.67,271.45 L439.78,271.80 L441.90,272.15 L444.02,271.55 L446.13,270.95 L448.25,274.85 L450.37,273.00 L452.48,271.15 L454.60,270.69 L456.72,270.23 L458.83,269.77 L460.95,269.31 L463.06,268.85 L465.18,270.35 L467.30,269.62 L469.41,268.90 L471.53,268.18 L473.65,267.45 L475.76,267.25 L477.88,267.05 L480.00,265.38 L482.11,263.70 L484.23,262.03 L486.34,260.35 L488.46,260.00 L490.58,259.65 L492.69,257.70 L494.81,255.75 L496.93,255.12 L499.04,254.48 L501.16,253.85 L503.28,252.15 L505.39,253.35 L507.51,252.95 L509.62,252.55 L511.74,252.15 L513.86,250.15 L515.97,250.00 L518.09,249.85 L520.21,247.55 L522.32,247.22 L524.44,246.88 L526.56,246.55 L528.67,243.15 L530.79,242.98 L532.91,242.82 L535.02,242.65 L537.14,241.90 L539.25,241.15 L541.37,240.40 L543.49,239.65 L545.60,240.92 L547.72,242.18 L549.84,243.45 L551.95,240.35 L554.07,239.32 L556.19,238.30 L558.30,237.28 L560.42,236.25 L562.53,233.15 L564.65,233.15 L566.77,233.15 L568.88,232.05 L571.00,232.05" fill="none" stroke="rgb(255,255,0)" stroke-width="0.5"/>
<path d="M80.00,385.25 L82.12,385.20 L84.23,382.80 L86.35,364.30 L88.47,363.25 L90.58,362.20 L92.70,360.40 L94.81,358.60 L96.93,358.30 L99.05,358.45 L101.16,358.60 L103.28,355.00 L105.40,354.20 L107.51,353.40 L109.63,352.65 L111.75,351.90 L113.86,353.20 L115.98,355.10 L118.09,357.00 L120.21,358.00 L122.33,357.73 L124.44,357.47 L126.56,357.20 L128.68,356.45 L130.79,355.70 L132.91,355.18 L135.03,354.65 L137.14,354.12 L139.26,353.60 L141.38,352.35 L143.49,351.10 L145.61,350.55 L147.72,350.00 L149.84,349.65 L151.96,349.30 L154.07,348.60 L156.19,345.35 L158.31,342.10 L160.42,342.90 L162.54,344.30 L164.66,343.60 L166.77,343.27 L168.89,342.93 L171.00,342.60 L173.12,341.83 L175.24,341.07 L177.35,340.30 L179.47,339.90 L181.59,339.03 L183.70,338.17 L185.82,337.30 L187.94,336.83 L190.05,336.37 L192.17,335.90 L194.28,335.15 L196.40,334.40 L198.52,335.00 L200.63,335.60 L202.75,335.50 L204.87,335.40 L206.98,335.30 L209.10,335.20 L211.22,335.10 L213.33,333.70 L215.45,332.30 L217.56,330.65 L219.68,329.00 L221.80,328.20 L223.91,327.40 L226.03,326.60 L228.15,321.90 L230.26,321.40 L232.38,320.90 L234.50,320.40 L236.61,319.60 L238.73,318.80 L240.84,318.00 L242.96,317.50 L245.08,317.00 L247.19,317.15 L249.31,317.30 L251.43,316.57 L253.54,315.83 L255.66,315.10 L257.78,314.17 L259.89,313.23 L262.01,312.30 L264.12,311.20 L266.24,310.10 L268.36,308.97 L270.47,307.83 L272.59,306.70 L274.71,306.45 L276.82,306.20 L278.94,305.60 L281.06,305.00 L283.17,304.40 L285.29,303.80 L287.41,303.20 L289.52,302.60 L291.64,302.22 L293.75,301.84 L295.87,301.46 L297.99,301.08 L300.10,300.70 L302.22,300.24 L304.34,299.78 L306.45,299.32 L308.57,298.86 L310.69,298.40 L312.80,297.30 L314.92,296.20 L317.03,295.80 L319.15,295.40 L321.27,293.85 L323.38,292.30 L325.50,291.85 L327.62,291.40 L329.73,290.95 L331.85,290.50 L333.97,289.55 L336.08,288.60 L338.20,286.93 L340.31,285.27 L342.43,283.60 L344.55,281.50 L346.66,279.40 L348.78,279.23 L350.90,279.07 L353.01,278.90 L355.13,277.50 L357.25,276.10 L359.36,274.70 L361.48,274.30 L363.59,271.80 L365.71,269.30 L367.83,268.95 L369.94,268.60 L372.06,268.25 L374.18,267.90 L376.29,266.40 L378.41,264.05 L380.53,261.70 L382.64,261.37 L384.76,261.03 L386.88,260.70 L388.99,258.90 L391.11,257.10 L393.22,255.23 L395.34,253.37 L397.46,251.50 L399.57,249.63 L401.69,247.77 L403.81,245.90 L405.92,247.00 L408.04,246.50 L410.16,246.00 L412.27,247.05 L414.39,248.10 L416.50,247.00 L418.62,245.90 L420.74,244.80 L422.85,244.33 L424.97,243.87 L427.09,243.40 L429.20,242.20 L431.32,241.00 L433.44,239.80 L435.55,238.60 L437.67,237.00 L439.78,235.40 L441.90,234.30 L444.02,233.20 L446.13,232.10 L448.25,230.53 L450.37,228.97 L452.48,227.40 L454.60,226.55 L456.72,225.70 L458.83,225.33 L460.95,224.97 L463.06,224.60 L465.18,225.00 L467.30,224.30 L469.41,223.60 L471.53,222.90 L473.65,221.70 L475.76,220.50 L477.88,219.30 L480.00,217.00 L482.11,214.70 L484.23,212.40 L486.34,214.05 L488.46,215.70 L490.58,215.40 L492.69,214.07 L494.81,212.73 L496.93,211.40 L499.04,209.50 L501.16,208.55 L503.28,207.60 L505.39,207.03 L507.51,206.45 L509.62,205.88 L511.74,205.30 L513.86,203.80 L515.97,202.30 L518.09,200.35 L520.21,198.40 L522.32,197.95 L524.44,197.50 L526.56,195.30 L528.67,193.10 L530.79,192.60 L532.91,194.55 L535.02,196.50 L537.14,195.70 L539.25,194.90 L541.37,193.90 L543.49,192.90 L545.60,191.90 L547.72,190.90 L549.84,190.43 L551.95,189.97 L554.07,189.50 L556.19,187.40 L558.30,186.30 L560.42,184.85 L562.53,183.40 L564.65,182.90 L566.77,181.10 L568.88,182.30 L571.00,181.90" fill="none" stroke="rgb(203,36,49)" stroke-width="0.5"/>
<path d="M80.00,385.00 L82.12,384.90 L84.23,382.20 L86.35,363.60 L88.47,362.50 L90.58,361.40 L92.70,359.65 L94.81,357.90 L96.93,356.40 L99.05,356.65 L101.16,356.90 L103.28,352.60 L105.40,351.65 L107.51,350.70 L109.63,349.65 L111.75,348.60 L113.86,348.37 L115.98,348.13 L118.09,347.90 L120.21,347.65 L122.33,347.40 L124.44,347.15 L126.56,346.90 L128.68,345.95 L130.79,345.00 L132.91,344.27 L135.03,343.55 L137.14,342.83 L139.26,342.10 L141.38,341.05 L143.49,340.00 L145.61,339.65 L147.72,339.30 L149.84,337.10 L151.96,336.75 L154.07,336.40 L156.19,333.55 L158.31,330.70 L160.42,330.00 L162.54,329.30 L164.66,326.40 L166.77,325.93 L168.89,325.47 L171.00,325.00 L173.12,324.30 L175.24,323.60 L177.35,322.90 L179.47,321.90 L181.59,320.60 L183.70,319.30 L185.82,318.00 L187.94,317.57 L190.05,317.15 L192.17,316.73 L194.28,316.30 L196.40,315.43 L198.52,314.57 L200.63,313.70 L202.75,312.30 L204.87,310.90 L206.98,310.63 L209.10,310.37 L211.22,310.10 L213.33,308.70 L215.45,307.30 L217.56,305.50 L219.68,303.70 L221.80,302.65 L223.91,301.60 L226.03,299.10 L228.15,296.60 L230.26,295.63 L232.38,294.67 L234.50,293.70 L236.61,292.77 L238.73,291.83 L240.84,290.90 L242.96,290.25 L245.08,289.60 L247.19,288.95 L249.31,288.30 L251.43,287.47 L253.54,286.63 L255.66,285.80 L257.78,284.55 L259.89,283.30 L262.01,282.67 L264.12,282.03 L266.24,281.40 L268.36,280.30 L270.47,279.20 L272.59,278.10 L274.71,277.87 L276.82,277.63 L278.94,277.40 L281.06,276.35 L283.17,275.30 L285.29,274.57 L287.41,273.85 L289.52,273.12 L291.64,272.40 L293.75,271.92 L295.87,271.44 L297.99,270.96 L300.10,270.48 L302.22,270.00 L304.34,269.03 L306.45,268.07 L308.57,267.10 L310.69,265.60 L312.80,264.10 L314.92,262.60 L317.03,261.97 L319.15,261.33 L321.27,260.70 L323.38,259.05 L325.50,257.40 L327.62,256.05 L329.73,254.70 L331.85,253.60 L333.97,252.50 L336.08,251.40 L338.20,249.65 L340.31,247.90 L342.43,246.23 L344.55,244.57 L346.66,242.90 L348.78,241.45 L350.90,240.00 L353.01,238.60 L355.13,237.27 L357.25,235.93 L359.36,234.60 L361.48,233.90 L363.59,231.40 L365.71,228.90 L367.83,228.57 L369.94,228.23 L372.06,227.90 L374.18,227.40 L376.29,226.90 L378.41,224.15 L380.53,221.40 L382.64,221.05 L384.76,220.70 L386.88,219.27 L388.99,217.85 L391.11,216.43 L393.22,215.00 L395.34,213.14 L397.46,211.28 L399.57,209.42 L401.69,207.56 L403.81,205.70 L405.92,205.30 L408.04,204.00 L410.16,202.70 L412.27,201.40 L414.39,200.22 L416.50,199.05 L418.62,197.88 L420.74,196.70 L422.85,196.10 L424.97,195.50 L427.09,194.90 L429.20,194.30 L431.32,192.87 L433.44,191.43 L435.55,190.00 L437.67,188.65 L439.78,187.30 L441.90,186.53 L444.02,185.77 L446.13,185.00 L448.25,183.55 L450.37,182.10 L452.48,179.30 L454.60,178.57 L456.72,177.83 L458.83,177.10 L460.95,176.57 L463.06,176.05 L465.18,175.53 L467.30,175.00 L469.41,174.20 L471.53,173.40 L473.65,172.60 L475.76,171.65 L477.88,170.70 L480.00,168.47 L482.11,166.23 L484.23,164.00 L486.34,162.90 L488.46,161.80 L490.58,160.70 L492.69,158.55 L494.81,156.40 L496.93,154.75 L499.04,153.10 L501.16,152.10 L503.28,151.10 L505.39,150.55 L507.51,150.00 L509.62,149.45 L511.74,148.90 L513.86,147.30 L515.97,145.70 L518.09,143.55 L520.21,141.40 L522.32,140.60 L524.44,139.80 L526.56,137.60 L528.67,135.40 L530.79,134.75 L532.91,134.10 L535.02,133.77 L537.14,133.43 L539.25,133.10 L541.37,132.25 L543.49,131.40 L545.60,130.27 L547.72,129.13 L549.84,128.00 L551.95,126.30 L554.07,124.60 L556.19,122.85 L558.30,121.10 L560.42,119.25 L562.53,117.40 L564.65,116.60 L566.77,115.80 L568.88,114.85 L571.00,113.90" fill="none" stroke="rgb(111,66,193)" stroke-width="0.5"/>
</g>
<rect x="586" y="116.00" width="30" height="6" fill="rgba(111,66,193,0.5)"/>
<path d="M586,116.00h30" stroke="rgb(111,66,193)" stroke-width="0.5" fill="none"/>
<rect x="586" y="142.40" width="30" height="6" fill="rgba(203,36,49,0.5)"/>
<path d="M586,142.40h30" stroke="rgb(203,36,49)" stroke-width="0.5" fill="none"/>
<rect x="586" y="168.80" width="30" height="6" fill="rgba(255,255,0,0.5)"/>
<path d="M586,168.80h30" stroke="rgb(255,255,0)" stroke-width="0.5" fill="none"/>
<rect x="586" y="195.20" width="30" height="6" fill="rgba(40,167,69,0.5)"/>
<path d="M586,195.20h30" stroke="rgb(40,167,69)" stroke-width="0.5" fill="none"/>
</svg></div>
<div class="layer txt"><svg width="700" height="500" viewBox="0 0 700 500" style="display:block">
<text x="79.1" y="392" text-anchor="end" class="t">0</text>
<text x="79.1" y="350" text-anchor="end" class="t">100</text>
<text x="79.1" y="307" text-anchor="end" class="t">200</text>
<text x="79.1" y="265" text-anchor="end" class="t">300</text>
<text x="79.1" y="222" text-anchor="end" class="t">400</text>
<text x="79.1" y="180" text-anchor="end" class="t">500</text>
<text x="79.1" y="138" text-anchor="end" class="t">600</text>
<text transform="translate(71,395.70) rotate(90)" text-anchor="start" class="t">30-04-2018</text>
<text transform="translate(94,395.70) rotate(90)" text-anchor="start" class="t">16-07-2018</text>
<text transform="translate(118,395.70) rotate(90)" text-anchor="start" class="t">01-10-2018</text>
<text transform="translate(141,395.70) rotate(90)" text-anchor="start" class="t">17-12-2018</text>
<text transform="translate(164,395.70) rotate(90)" text-anchor="start" class="t">04-03-2019</text>
<text transform="translate(187,395.70) rotate(90)" text-anchor="start" class="t">20-05-2019</text>
<text transform="translate(211,395.70) rotate(90)" text-anchor="start" class="t">05-08-2019</text>
<text transform="translate(234,395.70) rotate(90)" text-anchor="start" class="t">21-10-2019</text>
<text transform="translate(257,395.70) rotate(90)" text-anchor="start" class="t">06-01-2020</text>
<text transform="translate(281,395.70) rotate(90)" text-anchor="start" class="t">23-03-2020</text>
<text transform="translate(304,395.70) rotate(90)" text-anchor="start" class="t">08-06-2020</text>
<text transform="translate(327,395.70) rotate(90)" text-anchor="start" class="t">24-08-2020</text>
<text transform="translate(350,395.70) rotate(90)" text-anchor="start" class="t">09-11-2020</text>
<text transform="translate(374,395.70) rotate(90)" text-anchor="start" class="t">25-01-2021</text>
<text transform="translate(397,395.70) rotate(90)" text-anchor="start" class="t">12-04-2021</text>
<text transform="translate(420,395.70) rotate(90)" text-anchor="start" class="t">28-06-2021</text>
<text transform="translate(443,395.70) rotate(90)" text-anchor="start" class="t">13-09-2021</text>
<text transform="translate(467,395.70) rotate(90)" text-anchor="start" class="t">29-11-2021</text>
<text transform="translate(490,395.70) rotate(90)" text-anchor="start" class="t">14-02-2022</text>
<text transform="translate(513,395.70) rotate(90)" text-anchor="start" class="t">02-05-2022</text>
<text transform="translate(537,395.70) rotate(90)" text-anchor="start" class="t">18-07-2022</text>
<text transform="translate(560,395.70) rotate(90)" text-anchor="start" class="t">03-10-2022</text>
<text x="350.4" y="42.9" text-anchor="middle" class="title" style="letter-spacing:-0.07px">Matrix Spec Change Proposals</text>
<text x="621" y="125" class="t">Merged</text>
<text x="621" y="152" class="t">Closed</text>
<text x="621" y="178" class="t">FCP</text>
<text x="621" y="204" class="t">New</text>
</svg></div>
</body></html>
